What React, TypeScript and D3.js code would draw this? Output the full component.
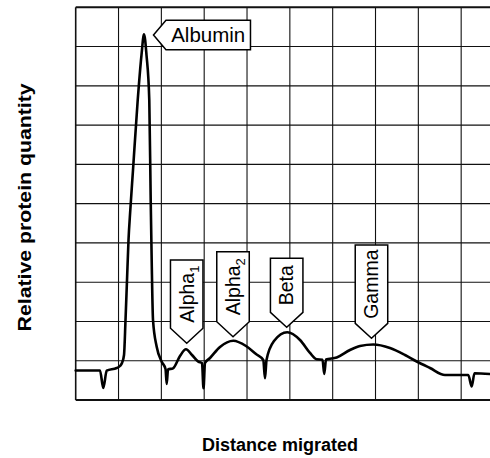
import React from 'react';
import * as d3 from 'd3';

// Grid divisions (arbitrary units)
const xTicks = d3.range(0, 11);
const yTicks = d3.range(0, 11);

// Densitometer trace (x: distance migrated, y: relative quantity, grid units)
const traceX = [0.0, 0.567, 0.644, 0.724, 0.957, 1.034, 1.081, 1.128, 1.163, 1.198, 1.233, 1.275, 1.338, 1.448, 1.536, 1.595, 1.653, 1.718, 1.751, 1.774, 1.805, 1.891, 2.008, 2.097, 2.125, 2.155, 2.272, 2.435, 2.575, 2.715, 2.862, 2.949, 2.984, 3.019, 3.136, 3.369, 3.68, 3.976, 4.21, 4.38, 4.42, 4.455, 4.63, 4.94, 5.237, 5.47, 5.627, 5.762, 5.804, 5.844, 6.094, 6.404, 6.638, 6.948, 7.338, 7.689, 7.962, 8.272, 8.622, 9.166, 9.246, 9.311, 9.673];
const traceY = [0.751, 0.751, 0.306, 0.746, 0.815, 0.866, 0.942, 1.146, 2.037, 3.056, 4.074, 4.838, 5.857, 7.639, 8.785, 9.312, 8.785, 7.639, 5.093, 3.565, 2.037, 1.357, 0.975, 0.789, 0.407, 0.777, 0.807, 1.12, 1.291, 1.146, 0.975, 0.942, 0.298, 0.942, 1.07, 1.35, 1.51, 1.375, 1.171, 1.019, 0.553, 1.019, 1.502, 1.724, 1.528, 1.197, 1.036, 1.026, 0.662, 1.031, 1.082, 1.273, 1.375, 1.413, 1.324, 1.146, 0.98, 0.815, 0.637, 0.637, 0.344, 0.68, 0.662];

// Fraction labels and the point each arrow indicates
const labelNames = ['Albumin', 'Alpha', 'Alpha', 'Beta', 'Gamma'];
const labelSubs = ['', '1', '2', '', ''];
const labelTipX = [1.816, 2.592, 3.673, 4.926, 6.906];
const labelTipY = [9.295, 1.444, 1.612, 1.851, 1.571];

const yTitle = 'Relative protein quantity';
const xTitle = 'Distance migrated';

// layout
const W = 490;
const H = 458;
const FONT = '"Liberation Sans", Arial, Helvetica, sans-serif';
const boxLen = [84.5, 68.3, 70, 54, 78.3];

export default function App() {
  const x = d3.scaleLinear().domain([0, 10]).range([75.7, 504]);
  const y = d3.scaleLinear().domain([0, 10]).range([400, 7.3]);
  const line = d3
    .line<number>()
    .x((_, i) => x(traceX[i]))
    .y((_, i) => y(traceY[i]))
    .curve(d3.curveMonotoneX);
  const pathD = line(traceX) || '';

  const labels = labelNames.map((name, i) => {
    const tx = x(labelTipX[i]);
    const ty = y(labelTipY[i]);
    const len = boxLen[i];
    if (i === 0) {
      const hh = 14.75;
      const dx = 12.5;
      const right = tx + dx + len;
      const d = `M${tx},${ty}L${tx + dx},${ty - hh}L${right},${ty - hh}L${right},${ty + hh}L${tx + dx},${ty + hh}Z`;
      return (
        <g key={i}>
          <path d={d} fill="#fff" stroke="#000" strokeWidth={1.5} strokeLinejoin="miter" />
          <text x={(tx + dx + right) / 2} y={ty + 7.2} textAnchor="middle" fontFamily={FONT} fontSize={20.5} fill="#000">
            {name}
          </text>
        </g>
      );
    }
    const hw = 16.25;
    const dd = 15;
    const top = ty - dd - len;
    const d = `M${tx},${ty}L${tx - hw},${ty - dd}L${tx - hw},${top}L${tx + hw},${top}L${tx + hw},${ty - dd}Z`;
    const cy = (top + ty - dd) / 2;
    return (
      <g key={i}>
        <path d={d} fill="#fff" stroke="#000" strokeWidth={1.5} strokeLinejoin="miter" />
        <text
          transform={`translate(${tx + 6.8},${cy}) rotate(-90)`}
          textAnchor="middle"
          fontFamily={FONT}
          fontSize={19.5}
          fill="#000"
        >
          <tspan>{name}</tspan>
          {labelSubs[i] ? (
            <tspan dy={5} fontSize={13}>
              {labelSubs[i]}
            </tspan>
          ) : null}
        </text>
      </g>
    );
  });

  return (
    <svg
      width={W}
      height={H}
      viewBox={`0 0 ${W} ${H}`}
      style={{ position: 'absolute', left: 0, top: 0, background: '#fff' }}
    >
      <rect x={0} y={0} width={W} height={H} fill="#fff" />
      <g>
        {xTicks.map((t) => (
          <line
            key={'vx' + t}
            x1={x(t)}
            x2={x(t)}
            y1={y(0)}
            y2={y(10)}
            stroke="#111"
            strokeWidth={t === 0 ? 1.6 : 1.1}
          />
        ))}
        {yTicks.map((t) => (
          <line
            key={'hy' + t}
            x1={x(0)}
            x2={x(10)}
            y1={y(t)}
            y2={y(t)}
            stroke="#111"
            strokeWidth={t === 0 || t === 10 ? 2 : 1.1}
          />
        ))}
      </g>
      <path d={pathD} fill="none" stroke="#000" strokeWidth={2.6} strokeLinejoin="round" strokeLinecap="round" />
      {labels}
      <text
        transform={`translate(31,207.4) rotate(-90)`}
        textAnchor="middle"
        fontFamily={FONT}
        fontWeight="bold"
        fontSize={18.5}
        textLength={248}
        lengthAdjust="spacingAndGlyphs"
        fill="#000"
      >
        {yTitle}
      </text>
      <text x={280} y={451} textAnchor="middle" fontFamily={FONT} fontWeight="bold" fontSize={18} fill="#000">
        {xTitle}
      </text>
    </svg>
  );
}
